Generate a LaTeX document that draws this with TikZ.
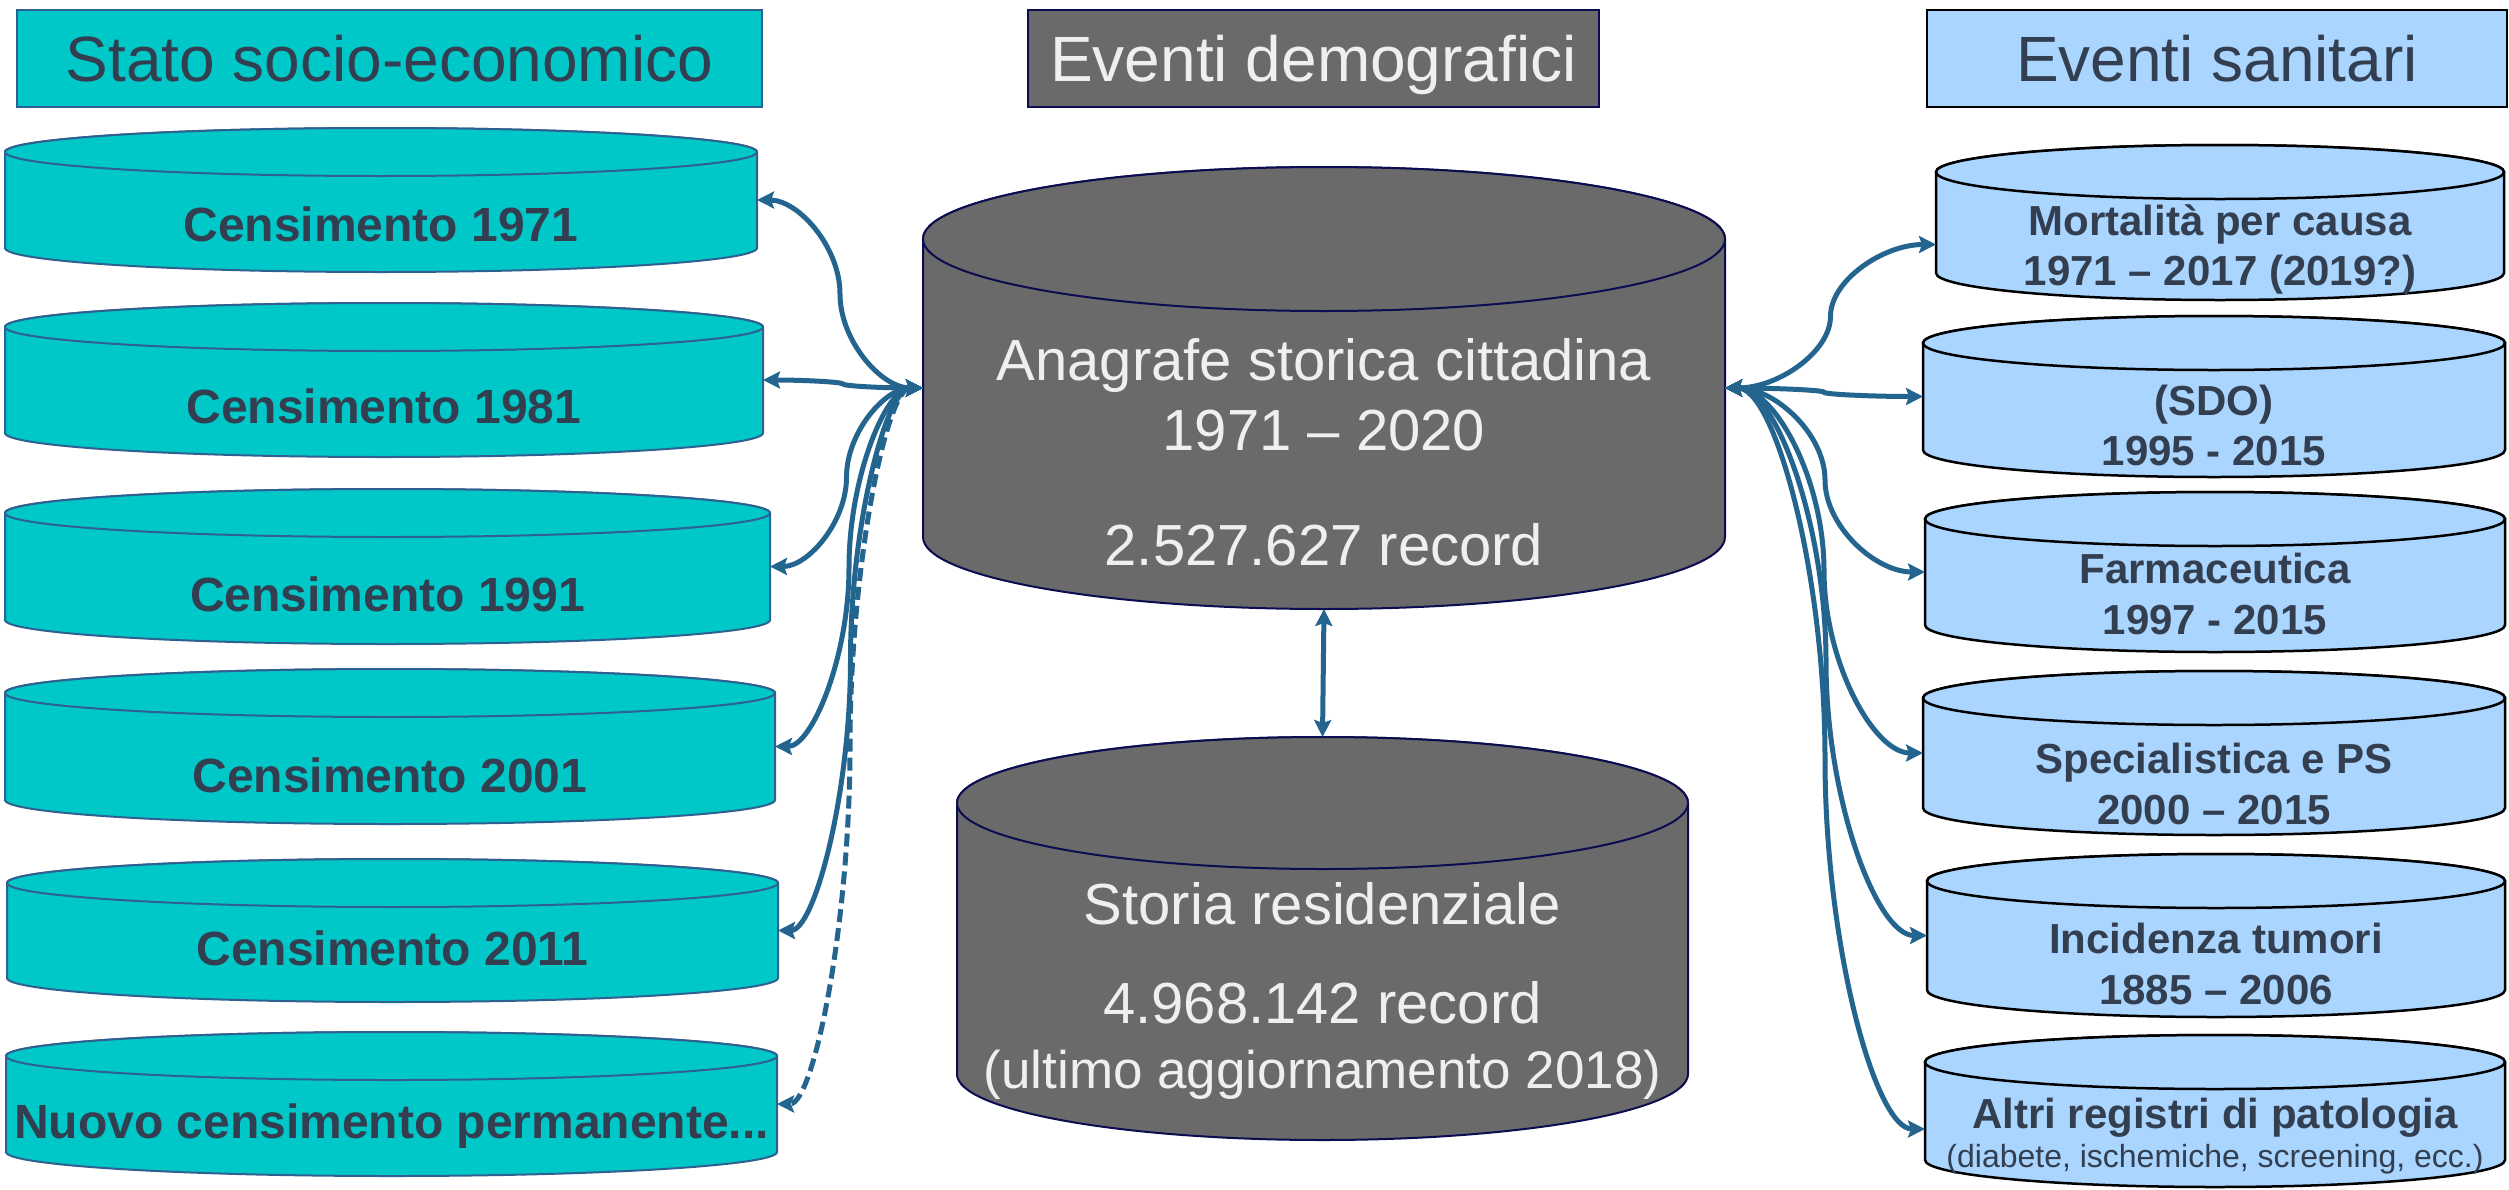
\documentclass[tikz,border=0pt]{standalone}
\usepackage{fontspec}
\setmainfont{Liberation Sans}
\usetikzlibrary{arrows.meta,calc}
\definecolor{tealf}{HTML}{00C8C8}
\definecolor{teald}{HTML}{2E6090}
\definecolor{txtd}{HTML}{333F50}
\definecolor{grayf}{HTML}{6A6A6A}
\definecolor{grayd}{HTML}{0C0C50}
\definecolor{bluef}{HTML}{A9D5FF}
\definecolor{arrc}{HTML}{24658F}
\definecolor{txtl}{HTML}{EFEFEF}

% #1 name, #2 style, #3 xl, #4 xr, #5 y top ellipse centre, #6 y bottom ellipse centre, #7 ry
\newcommand\dbcyl[7]{%
  \path[#2] (#3,#5) -- (#3,#6)
     arc[start angle=180,end angle=0,x radius={(#4-#3)/2},y radius=#7]
     -- (#4,#5)
     arc[start angle=0,end angle=-180,x radius={(#4-#3)/2},y radius=#7] -- cycle;
  \path[#2] ({(#3+#4)/2},#5) ellipse[x radius={(#4-#3)/2},y radius=#7];
  \node[inner sep=0pt,outer sep=0pt,minimum width={(#4-#3)*1pt},
        minimum height={(#6-#5+2*#7)*1pt}] (#1) at ({(#3+#4)/2},{(#5+#6)/2}) {};
}

\tikzset{
  tealcyl/.style={fill=tealf,draw=teald,line width=2pt},
  bluecyl/.style={fill=bluef,draw=black,line width=2.5pt},
  graycyl/.style={fill=grayf,draw=grayd,line width=2pt},
  lt/.style={font=\fontsize{48}{56}\selectfont\bfseries,text=txtd,anchor=base,inner sep=0pt},
  rt/.style={font=\fontsize{42}{50}\selectfont\bfseries,text=txtd,anchor=base,inner sep=0pt},
  rts/.style={font=\fontsize{32}{38}\selectfont,text=txtd,anchor=base,inner sep=0pt},
  mt/.style={font=\fontsize{58}{66}\selectfont,text=txtl,anchor=base,inner sep=0pt},
  mts/.style={font=\fontsize{53}{60}\selectfont,text=txtl,anchor=base,inner sep=0pt},
  ttl/.style={font=\fontsize{64}{72}\selectfont,inner sep=0pt,text height=46pt,text depth=0pt,line width=2pt},
  pcurve/.style={to path={
    let \p1=(\tikztostart), \p2=(\tikztotarget) in
    .. controls ({0.75*\x1+0.25*\x2},\y1) and ({0.5*\x1+0.5*\x2},{0.75*\y1+0.25*\y2})
    .. ({0.5*\x1+0.5*\x2},{0.5*\y1+0.5*\y2})
    .. controls ({0.5*\x1+0.5*\x2},{0.25*\y1+0.75*\y2}) and ({0.25*\x1+0.75*\x2},\y2)
    .. (\tikztotarget) \tikztonodes}},
  conn/.style={draw=arrc,line width=5pt,{Stealth[length=17pt,width=17pt,inset=3pt]}-{Stealth[length=17pt,width=17pt,inset=3pt]},pcurve},
  vconn/.style={draw=arrc,line width=5pt,{Stealth[length=17pt,width=17pt,inset=3pt]}-{Stealth[length=17pt,width=17pt,inset=3pt]}}
}

\begin{document}
\begin{tikzpicture}[x=1pt,y=-1pt]
\path[use as bounding box,fill=white] (0,0) rectangle (2509,1189);

% title boxes
\node[ttl,fill=tealf,draw=teald,text=txtd,minimum width=745pt,minimum height=97pt] (t1) at (389.5,58) {Stato socio-economico};
\node[ttl,fill=grayf,draw=grayd,text=txtl,minimum width=571pt,minimum height=97pt] (t2) at (1313.5,58) {Eventi demografici};
\node[ttl,fill=bluef,draw=black,text=txtd,minimum width=580pt,minimum height=97pt] (t3) at (2217,58) {Eventi sanitari};

% left cylinders
\dbcyl{l1}{tealcyl}{5}{757}{152}{248}{24}
\dbcyl{l2}{tealcyl}{5}{763}{327}{433}{24}
\dbcyl{l3}{tealcyl}{5}{770}{513}{620}{24}
\dbcyl{l4}{tealcyl}{5}{775}{693}{800}{24}
\dbcyl{l5}{tealcyl}{7}{778}{883}{978}{24}
\dbcyl{l6}{tealcyl}{6}{777}{1056}{1152}{24}

% central cylinders
\dbcyl{main}{graycyl}{923}{1725}{239}{537}{72}
\dbcyl{storia}{graycyl}{957}{1688}{803}{1074}{66}

% right cylinders
\dbcyl{r1}{bluecyl}{1936}{2504}{172}{273}{27}
\dbcyl{r2}{bluecyl}{1923}{2505}{343}{450}{27}
\dbcyl{r3}{bluecyl}{1925}{2505}{519}{625}{27}
\dbcyl{r4}{bluecyl}{1923}{2505}{698}{808}{27}
\dbcyl{r5}{bluecyl}{1927}{2505}{881}{990}{27}
\dbcyl{r6}{bluecyl}{1925}{2505}{1062}{1160}{27}

% texts left
\node[lt] (l1a) at (381,241) {Censimento 1971};
\node[lt] (l2a) at (384,423) {Censimento 1981};
\node[lt] (l3a) at (387.5,611) {Censimento 1991};
\node[lt] (l4a) at (390,792) {Censimento 2001};
\node[lt] (l5a) at (392.5,965) {Censimento 2011};
\node[lt] (l6a) at (391.5,1138) {Nuovo censimento permanente...};

% texts centre
\node[mt] (ma) at (1324,380) {Anagrafe storica cittadina};
\node[mt] (mb) at (1324,450) {1971 – 2020};
\node[mt] (mc) at (1324,565) {2.527.627 record};
\node[mt] (sa) at (1322.5,924) {Storia residenziale};
\node[mt] (sb) at (1322.5,1023) {4.968.142 record};
\node[mts] (sc) at (1322.5,1088) {(ultimo aggiornamento 2018)};

% texts right
\node[rt] (r1a) at (2220,235) {Mortalità per causa};
\node[rt] (r1b) at (2220,285) {1971 – 2017 (2019?)};
\node[rt] (r2a) at (2214,415) {(SDO)};
\node[rt] (r2b) at (2214,465) {1995 - 2015};
\node[rt] (r3a) at (2215,583) {Farmaceutica};
\node[rt] (r3b) at (2215,634) {1997 - 2015};
\node[rt] (r4a) at (2214,773) {Specialistica e PS};
\node[rt] (r4b) at (2214,824) {2000 – 2015};
\node[rt] (r5a) at (2216,953) {Incidenza tumori};
\node[rt] (r5b) at (2216,1004) {1885 – 2006};
\node[rt] (r6a) at (2215,1128) {Altri registri di patologia};
\node[rts] (r6b) at (2215,1167) {(diabete, ischemiche, screening, ecc.)};

% connectors left
\draw[conn] (main.west) to (l1.east);
\draw[conn] (main.west) to (l2.east);
\draw[conn] (main.west) to (l3.east);
\draw[conn] (main.west) to (l4.east);
\draw[conn] (main.west) to (l5.east);
\draw[conn,dash pattern=on 13pt off 6pt] (main.west) to (l6.east);

% connectors right
\draw[conn] (main.east) to ($(r1.west)+(0,22)$);
\draw[conn] (main.east) to (r2.west);
\draw[conn] (main.east) to (r3.west);
\draw[conn] (main.east) to (r4.west);
\draw[conn] (main.east) to (r5.west);
\draw[conn] (main.east) to ($(r6.west)+(0,18)$);

% vertical link
\draw[vconn] (main.south) -- (storia.north);
\end{tikzpicture}
\end{document}
